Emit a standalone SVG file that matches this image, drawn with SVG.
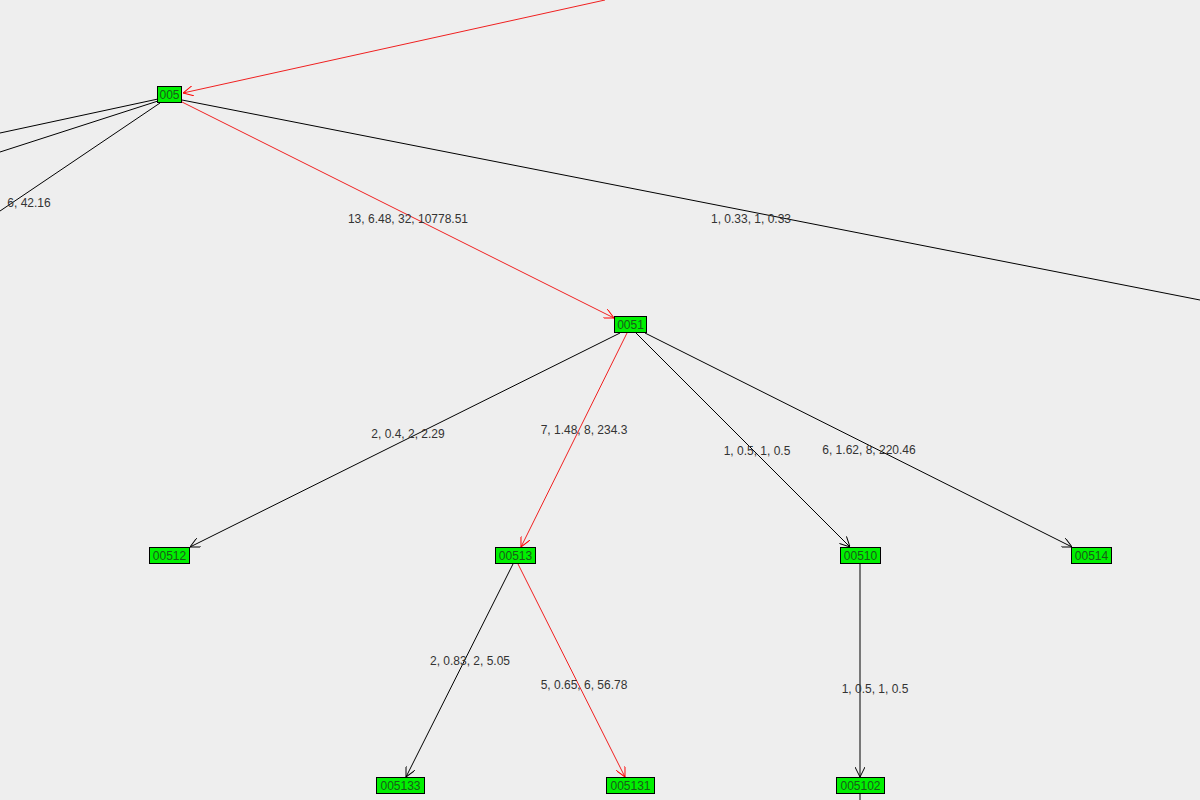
<svg xmlns="http://www.w3.org/2000/svg" width="1200" height="800" viewBox="0 0 1200 800">
<defs>
<marker id="ab" viewBox="0 0 10 10" refX="10" refY="5" markerWidth="10" markerHeight="10" markerUnits="userSpaceOnUse" orient="auto"><path d="M0,0 L10,5 L0,10" fill="none" stroke="#000"/></marker>
<marker id="ar" viewBox="0 0 10 10" refX="10" refY="5" markerWidth="10" markerHeight="10" markerUnits="userSpaceOnUse" orient="auto"><path d="M0,0 L10,5 L0,10" fill="none" stroke="#f00"/></marker>
</defs>
<style>
.n rect{fill:#00f000;stroke:#000;stroke-width:1}
.n text{font-family:"Liberation Sans",Arial,sans-serif;font-size:12px;fill:#1a5a1a;text-anchor:middle}
.e{stroke:#000;stroke-width:1;fill:none}
.r{stroke:#f02020;stroke-width:1;fill:none}
.l{font-family:"Liberation Sans",Arial,sans-serif;font-size:12px;fill:#333;text-anchor:middle}
</style>
<rect width="1200" height="800" fill="#eeeeee"/>
<g id="connectors">
<line class="r" x1="605" y1="0" x2="183" y2="93" marker-end="url(#ar)"/>
<line class="e" x1="158" y1="99" x2="0" y2="133"/>
<line class="e" x1="158" y1="101" x2="0" y2="152"/>
<line class="e" x1="160" y1="103" x2="0" y2="211"/>
<line class="e" x1="182" y1="100" x2="1200" y2="300"/>
<line class="r" x1="182" y1="102" x2="614" y2="318" marker-end="url(#ar)"/>
<line class="e" x1="620" y1="333" x2="190" y2="547" marker-end="url(#ab)"/>
<line class="r" x1="627" y1="333" x2="521" y2="547" marker-end="url(#ar)"/>
<line class="e" x1="636" y1="333" x2="850" y2="547" marker-end="url(#ab)"/>
<line class="e" x1="645" y1="333" x2="1072" y2="547" marker-end="url(#ab)"/>
<line class="e" x1="513" y1="564" x2="406" y2="777" marker-end="url(#ab)"/>
<line class="r" x1="518" y1="564" x2="625" y2="777" marker-end="url(#ar)"/>
<line class="e" x1="860" y1="564" x2="860" y2="777" marker-end="url(#ab)"/>
<line class="e" x1="860" y1="794" x2="860" y2="800"/>
<text class="l" x="29" y="207">6, 42.16</text>
<text class="l" x="408" y="223">13, 6.48, 32, 10778.51</text>
<text class="l" x="751" y="223">1, 0.33, 1, 0.33</text>
<text class="l" x="408" y="438">2, 0.4, 2, 2.29</text>
<text class="l" x="584" y="434">7, 1.48, 8, 234.3</text>
<text class="l" x="757" y="455">1, 0.5, 1, 0.5</text>
<text class="l" x="869" y="454">6, 1.62, 8, 220.46</text>
<text class="l" x="470" y="665">2, 0.83, 2, 5.05</text>
<text class="l" x="584" y="689">5, 0.65, 6, 56.78</text>
<text class="l" x="875" y="693">1, 0.5, 1, 0.5</text>
</g>
<g id="n005" class="n"><rect x="157.500" y="86.500" width="24" height="16"/><text x="169.500" y="99">005</text></g>
<g id="n0051" class="n"><rect x="614.500" y="316.500" width="32" height="16"/><text x="630.500" y="329">0051</text></g>
<g id="n00512" class="n"><rect x="149.500" y="547.500" width="40" height="16"/><text x="169.500" y="560">00512</text></g>
<g id="n00513" class="n"><rect x="495.500" y="547.500" width="40" height="16"/><text x="515.500" y="560">00513</text></g>
<g id="n00510" class="n"><rect x="840.500" y="547.500" width="40" height="16"/><text x="860.500" y="560">00510</text></g>
<g id="n00514" class="n"><rect x="1071.500" y="547.500" width="40" height="16"/><text x="1091.500" y="560">00514</text></g>
<g id="n005133" class="n"><rect x="376.500" y="777.500" width="48" height="16"/><text x="400.500" y="790">005133</text></g>
<g id="n005131" class="n"><rect x="606.500" y="777.500" width="48" height="16"/><text x="630.500" y="790">005131</text></g>
<g id="n005102" class="n"><rect x="836.500" y="777.500" width="48" height="16"/><text x="860.500" y="790">005102</text></g>
</svg>
